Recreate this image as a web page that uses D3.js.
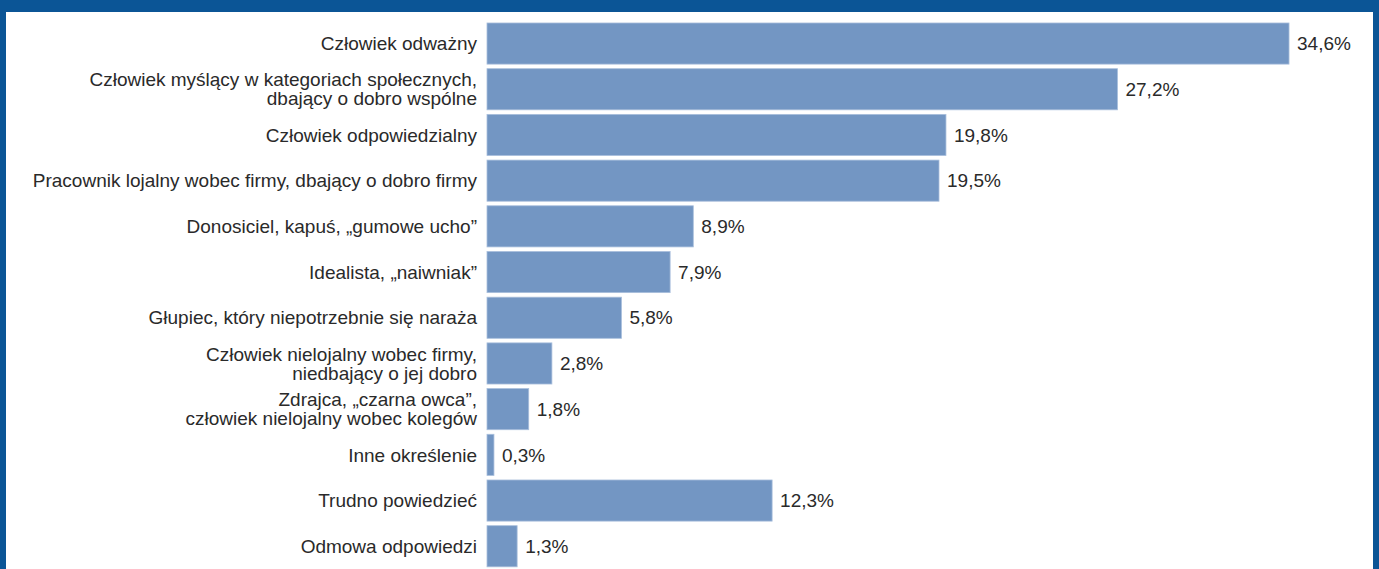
<!DOCTYPE html>
<html>
<head>
<meta charset="utf-8">
<script src="https://cdn.jsdelivr.net/npm/d3@7"></script>
<style>
  body { margin: 0; background: #fff; }
  text { font-family: "Liberation Sans", Arial, sans-serif; fill: #2a2a2a; }
</style>
</head>
<body>
<div id="chart"></div>
<script>
// answers (percent), top to bottom
var labels = [
  ["Człowiek odważny"],
  ["Człowiek myślący w kategoriach społecznych,", "dbający o dobro wspólne"],
  ["Człowiek odpowiedzialny"],
  ["Pracownik lojalny wobec firmy, dbający o dobro firmy"],
  ["Donosiciel, kapuś, „gumowe ucho”"],
  ["Idealista, „naiwniak”"],
  ["Głupiec, który niepotrzebnie się naraża"],
  ["Człowiek nielojalny wobec firmy,", "niedbający o jej dobro"],
  ["Zdrajca, „czarna owca”,", "człowiek nielojalny wobec kolegów"],
  ["Inne określenie"],
  ["Trudno powiedzieć"],
  ["Odmowa odpowiedzi"]
];
var values = [34.6, 27.2, 19.8, 19.5, 8.9, 7.9, 5.8, 2.8, 1.8, 0.3, 12.3, 1.3];

var width = 1379, height = 569;
var svg = d3.select("#chart").append("svg")
  .attr("width", width)
  .attr("height", height);

// frame: thick top bar, thin sides
svg.append("rect").attr("x", 0).attr("y", 0).attr("width", width).attr("height", 12).attr("fill", "#0b5596");
svg.append("rect").attr("x", 0).attr("y", 0).attr("width", 6).attr("height", height).attr("fill", "#0b5596");
svg.append("rect").attr("x", width - 6).attr("y", 0).attr("width", 6).attr("height", height).attr("fill", "#0b5596");

var idx = d3.range(values.length);
var step = 45.7;
var y = d3.scaleBand()
  .domain(idx)
  .range([20.7, 20.7 + step * values.length])
  .paddingInner(0.1)
  .paddingOuter(0.05);

var x = d3.scaleLinear().domain([0, 35]).range([487, 487 + 35 * 23.18]);

var row = svg.append("g").selectAll("g")
  .data(idx)
  .enter().append("g");

row.append("rect")
  .attr("x", x(0))
  .attr("y", function(i) { return y(i); })
  .attr("width", function(i) { return x(values[i]) - x(0); })
  .attr("height", y.bandwidth())
  .attr("fill", "#7396c3")
  .attr("stroke", "#a9bfdc")
  .attr("stroke-width", 0.8);

// value labels
row.append("text")
  .attr("x", function(i) { return x(values[i]) + 8; })
  .attr("y", function(i) { return y(i) + y.bandwidth() / 2; })
  .attr("dy", "0.35em")
  .attr("font-size", 19)
  .text(function(i) { return d3.format(".1f")(values[i]).replace(".", ",") + "%"; });

// category labels, right aligned, one or two lines
row.append("text")
  .attr("text-anchor", "end")
  .attr("font-size", 19)
  .each(function(i) {
    var lines = labels[i];
    var cy = y(i) + y.bandwidth() / 2;
    var lh = 19;
    var t = d3.select(this);
    lines.forEach(function(l, k) {
      t.append("tspan")
        .attr("x", 477)
        .attr("y", cy + (k - (lines.length - 1) / 2) * lh)
        .attr("dy", "0.35em")
        .text(l);
    });
  });
</script>
</body>
</html>
